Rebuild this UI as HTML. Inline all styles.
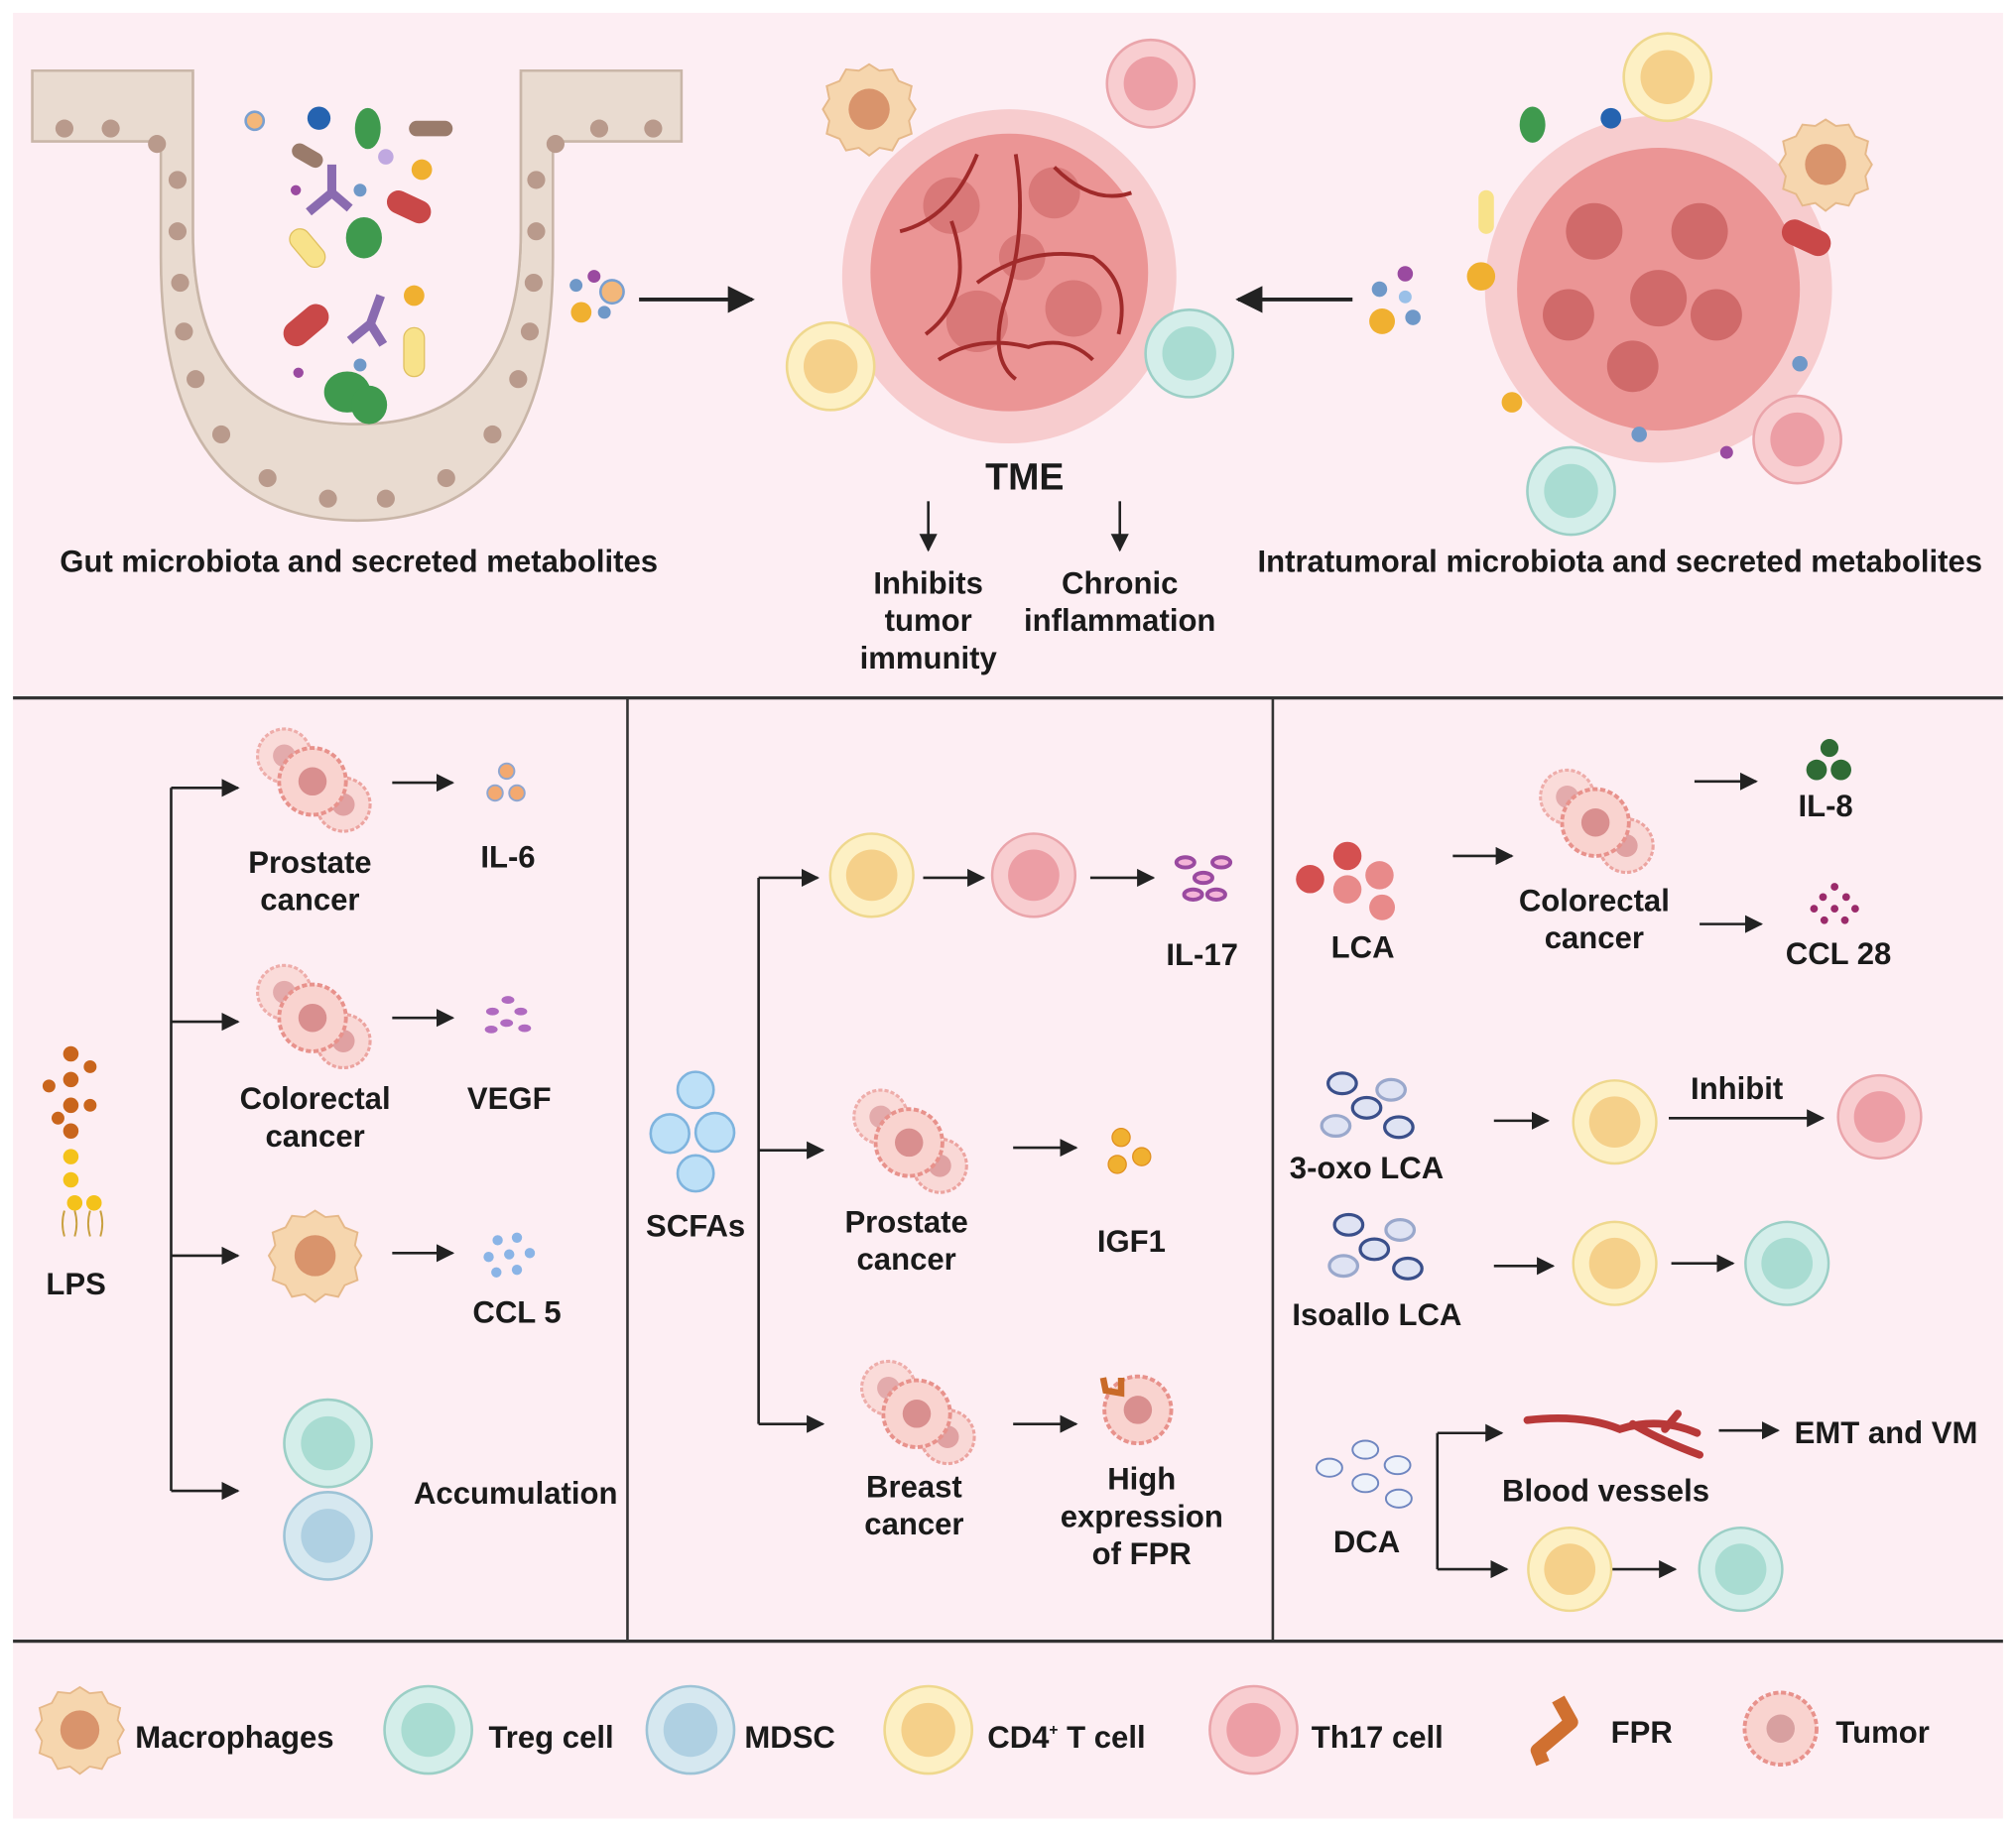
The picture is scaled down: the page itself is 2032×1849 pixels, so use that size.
<!DOCTYPE html>
<html><head><meta charset="utf-8"><style>
html,body{margin:0;padding:0;background:#fff;}
svg{display:block;}
text{font-family:"Liberation Sans",sans-serif;font-weight:bold;fill:#1a1a1a;}
</style></head><body>
<svg width="2032" height="1849" viewBox="0 0 1568 1427" xmlns="http://www.w3.org/2000/svg">
<defs>
<marker id="ah" viewBox="0 0 10 10" refX="9" refY="5" markerWidth="7" markerHeight="7" orient="auto"><path d="M0,0 L10,5 L0,10 z" fill="#222"/></marker>
<g id="cd4"><circle r="34" fill="#fdf0c4" stroke="#efd88e" stroke-width="2"/><circle r="21" fill="#f5d08a"/></g>
<g id="treg"><circle r="34" fill="#d4eeea" stroke="#9ccfc6" stroke-width="2"/><circle r="21" fill="#a9dcd2"/></g>
<g id="mdsc"><circle r="34" fill="#d6e8f0" stroke="#9dc3d6" stroke-width="2"/><circle r="21" fill="#afd0e2"/></g>
<g id="th17"><circle r="34" fill="#f8cdd0" stroke="#eaa5ab" stroke-width="2"/><circle r="21" fill="#ec9ea5"/></g>
<g id="mac"><path d="M0,-35 L8,-30 L18,-31 L23,-22 L33,-18 L31,-8 L36,0 L31,9 L33,19 L23,23 L18,32 L8,30 L0,36 L-8,30 L-18,32 L-23,23 L-33,19 L-31,9 L-36,0 L-31,-8 L-33,-18 L-23,-22 L-18,-31 L-8,-30 z" fill="#f6d6ae" stroke="#e6b98a" stroke-width="1.5"/><circle r="16" fill="#d9946c"/></g>
<g id="tum1"><circle r="26" fill="#f9d3cf" stroke="#e8928c" stroke-width="3" stroke-dasharray="4 2"/><circle r="11" fill="#d98f8f"/></g>
<g id="tcl"><use href="#tum1" transform="translate(-22,-20) scale(.8)" opacity=".7"/><use href="#tum1" transform="translate(24,18) scale(.8)" opacity=".8"/><use href="#tum1"/></g>
</defs>
<rect width="1568" height="1427" fill="#fff"/>
<rect x="10" y="10" width="1548" height="1405" fill="#fdeef3"/>
<g stroke="#333" stroke-width="2.5"><line x1="10" y1="543" x2="1558" y2="543"/><line x1="10" y1="1277" x2="1558" y2="1277"/></g>
<g stroke="#333" stroke-width="2"><line x1="488" y1="543" x2="488" y2="1277"/><line x1="990" y1="543" x2="990" y2="1277"/></g>

<!-- gut crypt -->
<path d="M25,55 L150,55 L150,180 Q150,330 278,330 Q405,330 405,180 L405,55 L530,55 L530,110 L430,110 L430,200 Q430,405 278,405 Q125,405 125,200 L125,110 L25,110 z" fill="#e9dbd0" stroke="#c9b6a8" stroke-width="2"/>
<path d="M150,55 L150,180 Q150,330 278,330 Q405,330 405,180 L405,55" fill="#fdeef3" stroke="#c9b6a8" stroke-width="2"/>
<g fill="#b99a8c"><circle cx="50" cy="100" r="7"/><circle cx="86" cy="100" r="7"/><circle cx="122" cy="112" r="7"/><circle cx="138" cy="140" r="7"/><circle cx="138" cy="180" r="7"/><circle cx="140" cy="220" r="7"/><circle cx="143" cy="258" r="7"/><circle cx="152" cy="295" r="7"/><circle cx="172" cy="338" r="7"/><circle cx="208" cy="372" r="7"/><circle cx="255" cy="388" r="7"/><circle cx="300" cy="388" r="7"/><circle cx="347" cy="372" r="7"/><circle cx="383" cy="338" r="7"/><circle cx="403" cy="295" r="7"/><circle cx="412" cy="258" r="7"/><circle cx="415" cy="220" r="7"/><circle cx="417" cy="180" r="7"/><circle cx="417" cy="140" r="7"/><circle cx="432" cy="112" r="7"/><circle cx="466" cy="100" r="7"/><circle cx="508" cy="100" r="7"/></g>
<g><ellipse cx="286" cy="100" rx="10" ry="16" fill="#3f9a4e"/><ellipse cx="283" cy="185" rx="14" ry="16" fill="#3f9a4e"/><ellipse cx="270" cy="305" rx="18" ry="16" fill="#3f9a4e"/><ellipse cx="287" cy="315" rx="14" ry="15" fill="#3f9a4e"/>
<rect x="300" y="152" width="36" height="18" rx="9" fill="#c94848" transform="rotate(25 318 161)"/><rect x="218" y="243" width="40" height="20" rx="10" fill="#c94848" transform="rotate(-40 238 253)"/>
<rect x="222" y="185" width="34" height="16" rx="8" fill="#f8e28a" stroke="#e0c060" transform="rotate(50 239 193)"/><rect x="314" y="255" width="16" height="38" rx="8" fill="#f8e28a" stroke="#e0c060"/>
<rect x="318" y="94" width="34" height="12" rx="6" fill="#9a7b6b"/><rect x="226" y="115" width="26" height="12" rx="6" fill="#9a7b6b" transform="rotate(30 239 121)"/>
<path d="M258,128 L258,150 M258,150 L240,165 M258,150 L272,162" stroke="#8a6bb0" stroke-width="7" fill="none"/><path d="M296,230 L288,252 M288,252 L272,265 M288,252 L298,268" stroke="#8a6bb0" stroke-width="7" fill="none"/>
<circle cx="198" cy="94" r="7" fill="#f3b77a" stroke="#7aa0d0" stroke-width="2"/><circle cx="248" cy="92" r="9" fill="#2563b0"/><circle cx="328" cy="132" r="8" fill="#f0b030"/><circle cx="322" cy="230" r="8" fill="#f0b030"/><circle cx="300" cy="122" r="6" fill="#c0a8e0"/><circle cx="280" cy="148" r="5" fill="#6f98c8"/><circle cx="280" cy="284" r="5" fill="#6f98c8"/><circle cx="230" cy="148" r="4" fill="#9a4aa0"/><circle cx="232" cy="290" r="4" fill="#9a4aa0"/></g>

<g><circle cx="448" cy="222" r="5" fill="#6f98c8"/><circle cx="462" cy="215" r="5" fill="#9a4aa0"/><circle cx="476" cy="227" r="9" fill="#f3b77a" stroke="#7aa0d0" stroke-width="2"/><circle cx="452" cy="243" r="8" fill="#f0b030"/><circle cx="470" cy="243" r="5" fill="#6f98c8"/></g>
<g><circle cx="1093" cy="213" r="6" fill="#9a4aa0"/><circle cx="1073" cy="225" r="6" fill="#6f98c8"/><circle cx="1093" cy="231" r="5" fill="#9ac0e8"/><circle cx="1075" cy="250" r="10" fill="#f0b030"/><circle cx="1099" cy="247" r="6" fill="#6f98c8"/></g>
<line x1="497" y1="233" x2="585" y2="233" stroke="#222" stroke-width="3" marker-end="url(#ah)"/>
<line x1="1052" y1="233" x2="963" y2="233" stroke="#222" stroke-width="3" marker-end="url(#ah)"/>

<!-- TME -->
<circle cx="785" cy="215" r="130" fill="#f4b6b6" opacity=".6"/>
<circle cx="785" cy="212" r="108" fill="#eb9595"/>
<g fill="#d97878"><circle cx="740" cy="160" r="22"/><circle cx="820" cy="150" r="20"/><circle cx="760" cy="250" r="24"/><circle cx="835" cy="240" r="22"/><circle cx="795" cy="200" r="18"/></g>
<g stroke="#a02a2a" stroke-width="3" fill="none"><path d="M700,180 Q740,170 760,120 M740,172 Q760,230 720,260 M760,220 Q800,190 850,200 Q880,220 870,260 M790,120 Q800,180 780,240 Q770,280 790,295 M820,130 Q850,160 880,150 M730,280 Q760,260 800,270 Q830,260 850,280"/></g>
<use href="#mac" transform="translate(676,85)"/><use href="#th17" transform="translate(895,65)"/><use href="#cd4" transform="translate(646,285)"/><use href="#treg" transform="translate(925,275)"/>
<text x="797" y="381" font-size="29" text-anchor="middle">TME</text>
<line x1="722" y1="390" x2="722" y2="428" stroke="#222" stroke-width="2" marker-end="url(#ah)"/>
<line x1="871" y1="390" x2="871" y2="428" stroke="#222" stroke-width="2" marker-end="url(#ah)"/>
<g font-size="24" text-anchor="middle"><text x="722" y="462">Inhibits</text><text x="722" y="491">tumor</text><text x="722" y="520">immunity</text><text x="871" y="462">Chronic</text><text x="871" y="491">inflammation</text></g>
<text x="279" y="445" font-size="24" text-anchor="middle">Gut microbiota and secreted metabolites</text>
<text x="1260" y="445" font-size="24" text-anchor="middle">Intratumoral microbiota and secreted metabolites</text>

<!-- right tumor -->
<circle cx="1290" cy="225" r="135" fill="#f4b6b6" opacity=".6"/>
<circle cx="1290" cy="225" r="110" fill="#eb9595"/>
<g fill="#d06a6a"><circle cx="1240" cy="180" r="22"/><circle cx="1322" cy="180" r="22"/><circle cx="1290" cy="232" r="22"/><circle cx="1220" cy="245" r="20"/><circle cx="1335" cy="245" r="20"/><circle cx="1270" cy="285" r="20"/></g>
<use href="#cd4" transform="translate(1297,60)"/><use href="#mac" transform="translate(1420,128)"/><use href="#th17" transform="translate(1398,342)"/><use href="#treg" transform="translate(1222,382)"/>
<rect x="1385" y="175" width="40" height="20" rx="10" fill="#c94848" transform="rotate(25 1405 185)"/>
<ellipse cx="1192" cy="97" rx="10" ry="14" fill="#3f9a4e"/><circle cx="1253" cy="92" r="8" fill="#2563b0"/><circle cx="1152" cy="215" r="11" fill="#f0b030"/><rect x="1150" y="148" width="12" height="34" rx="6" fill="#f8e28a"/><circle cx="1176" cy="313" r="8" fill="#f0b030"/><circle cx="1400" cy="283" r="6" fill="#6f98c8"/><circle cx="1275" cy="338" r="6" fill="#6f98c8"/><circle cx="1343" cy="352" r="5" fill="#9a4aa0"/>

<!-- Panel 1 -->
<path d="M133,613 L133,1160" stroke="#222" stroke-width="2" fill="none"/>
<g stroke="#222" stroke-width="2"><line x1="133" y1="613" x2="185" y2="613" marker-end="url(#ah)"/><line x1="133" y1="795" x2="185" y2="795" marker-end="url(#ah)"/><line x1="133" y1="977" x2="185" y2="977" marker-end="url(#ah)"/><line x1="133" y1="1160" x2="185" y2="1160" marker-end="url(#ah)"/>
<line x1="305" y1="609" x2="352" y2="609" marker-end="url(#ah)"/><line x1="305" y1="792" x2="352" y2="792" marker-end="url(#ah)"/><line x1="305" y1="975" x2="352" y2="975" marker-end="url(#ah)"/></g>
<use href="#tcl" transform="translate(243,608)"/><use href="#tcl" transform="translate(243,792)"/><use href="#mac" transform="translate(245,977)"/><use href="#treg" transform="translate(255,1123)"/><use href="#mdsc" transform="translate(255,1195)"/>
<g fill="#f3a970" stroke="#8fa6d0" stroke-width="1.5"><circle cx="394" cy="600" r="6"/><circle cx="385" cy="617" r="6"/><circle cx="402" cy="617" r="6"/></g>
<g fill="#b06ac0"><ellipse cx="395" cy="778" rx="5" ry="3"/><ellipse cx="383" cy="787" rx="5" ry="3"/><ellipse cx="405" cy="787" rx="5" ry="3"/><ellipse cx="394" cy="796" rx="5" ry="3"/><ellipse cx="382" cy="801" rx="5" ry="3"/><ellipse cx="408" cy="800" rx="5" ry="3"/></g>
<g fill="#8ab4e6"><circle cx="387" cy="965" r="4"/><circle cx="402" cy="963" r="4"/><circle cx="380" cy="978" r="4"/><circle cx="396" cy="976" r="4"/><circle cx="412" cy="975" r="4"/><circle cx="386" cy="990" r="4"/><circle cx="402" cy="988" r="4"/></g>
<g fill="#c9651c"><circle cx="55" cy="820" r="6"/><circle cx="55" cy="840" r="6"/><circle cx="55" cy="860" r="6"/><circle cx="55" cy="880" r="6"/><circle cx="70" cy="830" r="5"/><circle cx="38" cy="845" r="5"/><circle cx="70" cy="860" r="5"/><circle cx="45" cy="870" r="5"/></g>
<g fill="#f4c21a"><circle cx="55" cy="900" r="6"/><circle cx="55" cy="918" r="6"/><circle cx="58" cy="936" r="6"/><circle cx="73" cy="936" r="6"/></g>
<path d="M50,942 q-3,10 0,20 M58,942 q3,10 0,20 M70,942 q-3,10 0,20 M78,942 q3,10 0,20" stroke="#c9a040" stroke-width="1.5" fill="none"/>
<g font-size="24" text-anchor="middle"><text x="59" y="1007">LPS</text><text x="241" y="679">Prostate</text><text x="241" y="708">cancer</text><text x="395" y="675">IL-6</text><text x="245" y="863">Colorectal</text><text x="245" y="892">cancer</text><text x="396" y="863">VEGF</text><text x="402" y="1029">CCL 5</text><text x="401" y="1170">Accumulation</text></g>

<!-- Panel 2 -->
<g fill="#bde0f7" stroke="#7fb4de" stroke-width="2"><circle cx="541" cy="848" r="14"/><circle cx="521" cy="882" r="15"/><circle cx="556" cy="881" r="15"/><circle cx="541" cy="913" r="14"/></g>
<line x1="590" y1="683" x2="590" y2="1108" stroke="#222" stroke-width="2"/>
<g stroke="#222" stroke-width="2"><line x1="590" y1="683" x2="636" y2="683" marker-end="url(#ah)"/><line x1="590" y1="895" x2="640" y2="895" marker-end="url(#ah)"/><line x1="590" y1="1108" x2="640" y2="1108" marker-end="url(#ah)"/>
<line x1="718" y1="683" x2="765" y2="683" marker-end="url(#ah)"/><line x1="848" y1="683" x2="897" y2="683" marker-end="url(#ah)"/><line x1="788" y1="893" x2="837" y2="893" marker-end="url(#ah)"/><line x1="788" y1="1108" x2="837" y2="1108" marker-end="url(#ah)"/></g>
<use href="#cd4" transform="translate(678,681) scale(.95)"/><use href="#th17" transform="translate(804,681) scale(.95)"/>
<g fill="#f4b4d8" stroke="#9a4aa0" stroke-width="3"><ellipse cx="922" cy="671" rx="7" ry="4"/><ellipse cx="950" cy="671" rx="7" ry="4"/><ellipse cx="936" cy="683" rx="7" ry="4"/><ellipse cx="928" cy="696" rx="7" ry="4"/><ellipse cx="946" cy="696" rx="7" ry="4"/></g>
<use href="#tcl" transform="translate(707,889)"/><use href="#tcl" transform="translate(713,1100)"/>
<g fill="#f0b030" stroke="#e09020"><circle cx="872" cy="885" r="7"/><circle cx="888" cy="900" r="7"/><circle cx="869" cy="906" r="7"/></g>
<circle cx="885" cy="1097" r="26" fill="#f9d3cf" stroke="#e8928c" stroke-width="3" stroke-dasharray="4 2"/><circle cx="885" cy="1097" r="11" fill="#d98f8f"/>
<path d="M858,1072 L860,1082 L872,1084 L872,1072" stroke="#c96a28" stroke-width="5" fill="none"/>
<g font-size="24" text-anchor="middle"><text x="935" y="751">IL-17</text><text x="541" y="962">SCFAs</text><text x="705" y="959">Prostate</text><text x="705" y="988">cancer</text><text x="880" y="974">IGF1</text><text x="711" y="1165">Breast</text><text x="711" y="1194">cancer</text><text x="888" y="1159">High</text><text x="888" y="1188">expression</text><text x="888" y="1217">of FPR</text></g>

<!-- Panel 3 -->
<g fill="#d45050"><circle cx="1048" cy="666" r="11"/><circle cx="1019" cy="684" r="11"/><circle cx="1048" cy="692" r="11" fill="#e88a8a"/><circle cx="1073" cy="681" r="11" fill="#e88a8a"/><circle cx="1075" cy="706" r="10" fill="#e88a8a"/></g>
<use href="#tcl" transform="translate(1241,640)"/>
<g stroke="#222" stroke-width="2"><line x1="1130" y1="666" x2="1176" y2="666" marker-end="url(#ah)"/><line x1="1318" y1="608" x2="1366" y2="608" marker-end="url(#ah)"/><line x1="1322" y1="719" x2="1370" y2="719" marker-end="url(#ah)"/>
<line x1="1162" y1="872" x2="1204" y2="872" marker-end="url(#ah)"/><line x1="1298" y1="870" x2="1418" y2="870" marker-end="url(#ah)"/><line x1="1162" y1="985" x2="1208" y2="985" marker-end="url(#ah)"/><line x1="1300" y1="983" x2="1348" y2="983" marker-end="url(#ah)"/>
<line x1="1337" y1="1113" x2="1383" y2="1113" marker-end="url(#ah)"/><line x1="1253" y1="1221" x2="1303" y2="1221" marker-end="url(#ah)"/>
<path d="M1118,1115 L1118,1221" fill="none"/><line x1="1118" y1="1115" x2="1168" y2="1115" marker-end="url(#ah)"/><line x1="1118" y1="1221" x2="1172" y2="1221" marker-end="url(#ah)"/></g>
<g fill="#2f6b35"><circle cx="1423" cy="582" r="7"/><circle cx="1413" cy="599" r="8"/><circle cx="1432" cy="599" r="8"/></g>
<g fill="#9a2a6a"><circle cx="1427" cy="690" r="3"/><circle cx="1418" cy="698" r="3"/><circle cx="1436" cy="698" r="3"/><circle cx="1411" cy="707" r="3"/><circle cx="1427" cy="707" r="3"/><circle cx="1443" cy="707" r="3"/><circle cx="1419" cy="716" r="3"/><circle cx="1435" cy="716" r="3"/></g>
<g fill="#dfe3f3" stroke="#3a4f8a" stroke-width="2.5"><ellipse cx="1044" cy="843" rx="11" ry="8"/><ellipse cx="1082" cy="848" rx="11" ry="8" stroke="#9aa8cc"/><ellipse cx="1063" cy="862" rx="11" ry="8"/><ellipse cx="1039" cy="876" rx="11" ry="8" stroke="#9aa8cc"/><ellipse cx="1088" cy="877" rx="11" ry="8"/>
<ellipse cx="1049" cy="953" rx="11" ry="8"/><ellipse cx="1089" cy="957" rx="11" ry="8" stroke="#9aa8cc"/><ellipse cx="1069" cy="972" rx="11" ry="8"/><ellipse cx="1045" cy="985" rx="11" ry="8" stroke="#9aa8cc"/><ellipse cx="1095" cy="987" rx="11" ry="8"/></g>
<g fill="#eef2fa" stroke="#6f86c0" stroke-width="1.5"><ellipse cx="1062" cy="1128" rx="10" ry="7"/><ellipse cx="1087" cy="1140" rx="10" ry="7"/><ellipse cx="1034" cy="1142" rx="10" ry="7"/><ellipse cx="1062" cy="1154" rx="10" ry="7"/><ellipse cx="1088" cy="1166" rx="10" ry="7"/></g>
<use href="#cd4" transform="translate(1256,873) scale(.95)"/><use href="#th17" transform="translate(1462,869) scale(.95)"/><use href="#cd4" transform="translate(1256,983) scale(.95)"/><use href="#treg" transform="translate(1390,983) scale(.95)"/><use href="#cd4" transform="translate(1221,1221) scale(.95)"/><use href="#treg" transform="translate(1354,1221) scale(.95)"/>
<path d="M1188,1105 Q1230,1100 1260,1112 Q1290,1102 1320,1115 M1270,1108 Q1290,1120 1322,1132 M1295,1112 L1305,1100" stroke="#b83838" stroke-width="6" fill="none" stroke-linecap="round"/>
<g font-size="24" text-anchor="middle"><text x="1420" y="635">IL-8</text><text x="1060" y="745">LCA</text><text x="1240" y="709">Colorectal</text><text x="1240" y="738">cancer</text><text x="1430" y="750">CCL 28</text><text x="1063" y="917">3-oxo LCA</text><text x="1351" y="855">Inhibit</text><text x="1071" y="1031">Isoallo LCA</text><text x="1467" y="1123">EMT and VM</text><text x="1249" y="1168">Blood vessels</text><text x="1063" y="1208">DCA</text></g>

<!-- Legend -->
<use href="#mac" transform="translate(62,1346) scale(.95)"/><use href="#treg" transform="translate(333,1346)"/><use href="#mdsc" transform="translate(537,1346)"/><use href="#cd4" transform="translate(722,1346)"/><use href="#th17" transform="translate(975,1346)"/>
<path d="M1212,1322 L1222,1340 L1196,1362 L1200,1372" stroke="#d07030" stroke-width="11" fill="none" stroke-linejoin="round"/>
<circle cx="1385" cy="1345" r="28" fill="#f9d3cf" stroke="#e8928c" stroke-width="3" stroke-dasharray="4 2"/><circle cx="1385" cy="1345" r="11" fill="#d8a0a0"/>
<g font-size="24"><text x="105" y="1360">Macrophages</text><text x="380" y="1360">Treg cell</text><text x="579" y="1360">MDSC</text><text x="768" y="1360">CD4<tspan font-size="12" dy="-10">+</tspan><tspan dy="10"> T cell</tspan></text><text x="1020" y="1360">Th17 cell</text><text x="1253" y="1356">FPR</text><text x="1428" y="1356">Tumor</text></g>
</svg>
</body></html>
